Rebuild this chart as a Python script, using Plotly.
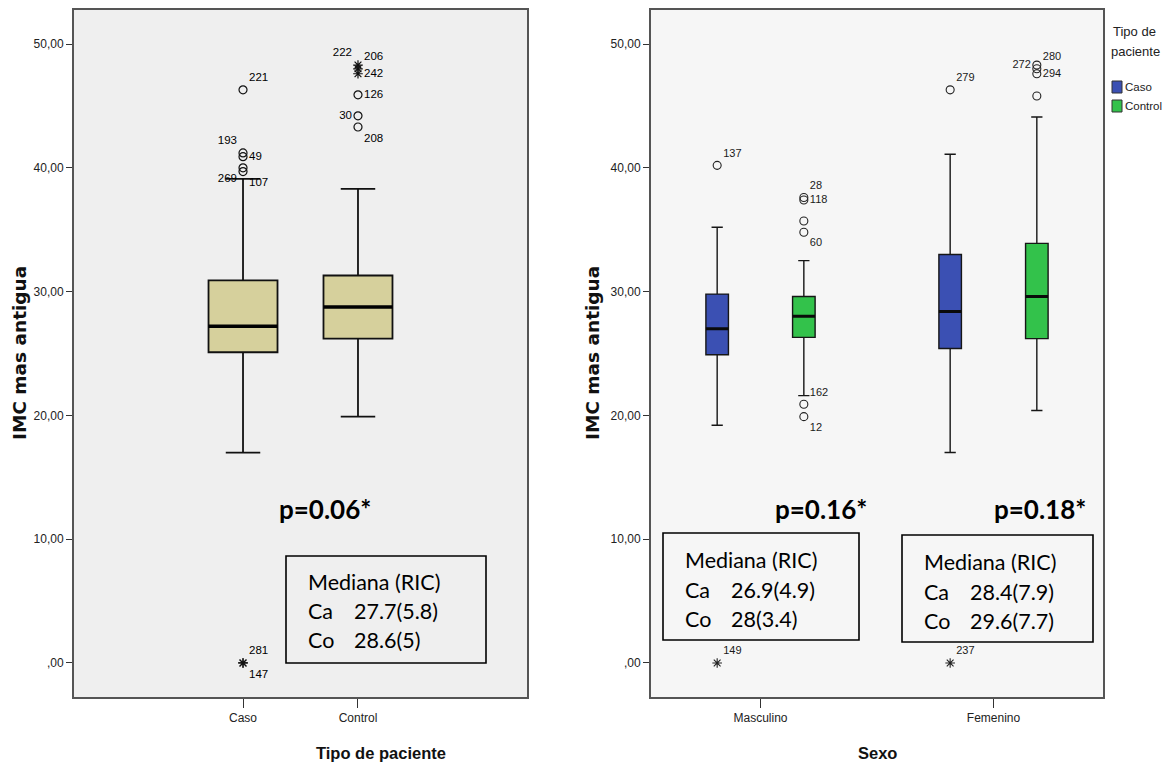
import plotly.graph_objects as go

# The page has an 8px body margin, so the figure is 16px smaller than the window
W, H = 1156, 754
OFF = 8


def px(x):
    return (x - OFF) / W


def py(y):
    return 1 - (y - OFF) / H


# ---------------- data: left panel (Tipo de paciente) ----------------
tipo_cats = ["Caso", "Control"]
tipo_q1 = [25.1, 26.2]
tipo_med = [27.2, 28.75]
tipo_q3 = [30.9, 31.3]
tipo_low = [17.0, 19.9]
tipo_high = [39.1, 38.3]

tipo_out_cat = ["Caso", "Caso", "Caso", "Caso", "Caso", "Caso", "Caso",
                "Control", "Control", "Control", "Control", "Control", "Control"]
tipo_out_val = [46.3, 41.2, 40.9, 40.0, 39.7, 0.0, 0.0,
                48.3, 48.0, 47.6, 45.9, 44.2, 43.3]
tipo_out_lbl = ["221", "193", "49", "269", "107", "281", "147",
                "222", "206", "242", "126", "30", "208"]
tipo_out_kind = ["o", "o", "o", "o", "o", "*", "*",
                 "*", "*", "*", "o", "o", "o"]
tipo_out_pos = ["top right", "top left", "middle right", "bottom left", "bottom right",
                "top right", "bottom right",
                "top left", "top right", "middle right", "middle right", "middle left", "bottom right"]

# ---------------- data: right panel (Sexo x Tipo de paciente) ----------------
sexo_cats = ["Masculino", "Femenino"]
caso_q1 = [24.9, 25.4]
caso_med = [27.0, 28.4]
caso_q3 = [29.8, 33.0]
caso_low = [19.2, 17.0]
caso_high = [35.2, 41.1]

ctrl_q1 = [26.3, 26.2]
ctrl_med = [28.0, 29.6]
ctrl_q3 = [29.6, 33.9]
ctrl_low = [21.6, 20.4]
ctrl_high = [32.5, 44.1]

caso_out_cat = ["Masculino", "Masculino", "Femenino", "Femenino"]
caso_out_val = [40.2, 0.0, 46.3, 0.0]
caso_out_lbl = ["137", "149", "279", "237"]
caso_out_kind = ["o", "*", "o", "*"]
caso_out_pos = ["top right", "top right", "top right", "top right"]

ctrl_out_cat = ["Masculino"] * 6 + ["Femenino"] * 4
ctrl_out_val = [37.6, 37.4, 35.7, 34.8, 20.9, 19.9, 48.3, 48.0, 47.6, 45.8]
ctrl_out_lbl = ["28", "118", "", "60", "162", "12", "272", "280", "294", ""]
ctrl_out_kind = ["o"] * 10
ctrl_out_pos = ["top right", "middle right", "top right", "bottom right", "top right",
                "bottom right", "middle left", "top right", "middle right", "top right"]

y_ticks = [0, 10, 20, 30, 40, 50]
y_ticktext = [",00", "10,00", "20,00", "30,00", "40,00", "50,00"]

legend_names = ["Caso", "Control"]

# ---------------- styles ----------------
SANS = "Liberation Sans Narrow, Liberation Sans, Arial, sans-serif"
TAN = "#d6d09c"
BLUE = "#3b50b3"
GREEN = "#33c24b"
SYM = {"o": "circle-open", "*": "asterisk-open"}

fig = go.Figure()

# Left boxes
fig.add_trace(go.Box(
    x=tipo_cats, q1=tipo_q1, median=tipo_med, q3=tipo_q3,
    lowerfence=tipo_low, upperfence=tipo_high,
    xaxis="x", yaxis="y", width=0.6, whiskerwidth=0.5,
    fillcolor=TAN, line=dict(color="#111111", width=1.8),
    offsetgroup="L", showlegend=False, hoverinfo="skip", boxpoints=False))
fig.add_trace(go.Box(
    x=tipo_cats, q1=tipo_med, median=tipo_med, q3=tipo_med,
    lowerfence=tipo_med, upperfence=tipo_med,
    xaxis="x", yaxis="y", width=0.6, whiskerwidth=0,
    fillcolor="rgba(0,0,0,0)", line=dict(color="#000000", width=3.5),
    offsetgroup="L", showlegend=False, hoverinfo="skip", boxpoints=False))
fig.add_trace(go.Scatter(
    x=tipo_out_cat, y=tipo_out_val, text=tipo_out_lbl, textposition=tipo_out_pos,
    mode="markers+text", xaxis="x", yaxis="y", offsetgroup="L",
    marker=dict(symbol=[SYM[k] for k in tipo_out_kind], size=8,
                color="#111111", line=dict(width=1.2, color="#111111")),
    textfont=dict(family=SANS, size=11.5, color="#000000"),
    showlegend=False, hoverinfo="skip"))

# Right boxes
for name, q1, med, q3, lo, hi, col, grp in [
    ("Caso", caso_q1, caso_med, caso_q3, caso_low, caso_high, BLUE, "caso"),
    ("Control", ctrl_q1, ctrl_med, ctrl_q3, ctrl_low, ctrl_high, GREEN, "control"),
]:
    fig.add_trace(go.Box(
        x=sexo_cats, q1=q1, median=med, q3=q3, lowerfence=lo, upperfence=hi,
        xaxis="x2", yaxis="y2", name=name, whiskerwidth=0.5,
        fillcolor=col, line=dict(color="#161616", width=1.4),
        offsetgroup=grp, showlegend=False, hoverinfo="skip", boxpoints=False))
    fig.add_trace(go.Box(
        x=sexo_cats, q1=med, median=med, q3=med, lowerfence=med, upperfence=med,
        xaxis="x2", yaxis="y2", name=name, whiskerwidth=0,
        fillcolor="rgba(0,0,0,0)", line=dict(color="#0a0a0a", width=3),
        offsetgroup=grp, showlegend=False, hoverinfo="skip", boxpoints=False))

for cats, vals, lbls, kinds, pos, grp in [
    (caso_out_cat, caso_out_val, caso_out_lbl, caso_out_kind, caso_out_pos, "caso"),
    (ctrl_out_cat, ctrl_out_val, ctrl_out_lbl, ctrl_out_kind, ctrl_out_pos, "control"),
]:
    fig.add_trace(go.Scatter(
        x=cats, y=vals, text=lbls, textposition=pos, mode="markers+text",
        xaxis="x2", yaxis="y2", offsetgroup=grp,
        marker=dict(symbol=[SYM[k] for k in kinds], size=8,
                    color="#222222", line=dict(width=1.1, color="#222222")),
        textfont=dict(family=SANS, size=11, color="#1a1a1a"),
        showlegend=False, hoverinfo="skip"))

axis_common = dict(showline=True, mirror=True, linecolor="#555555", linewidth=2,
                   showgrid=False, zeroline=False, ticks="outside", tickcolor="#333333",
                   tickfont=dict(family=SANS, size=12, color="#222222"))
yaxis_common = dict(axis_common, range=[-2.75, 52.75], tickvals=y_ticks,
                    ticktext=y_ticktext, ticklen=6, tickwidth=1.2,
                    domain=[py(697), py(10)])

fig.update_layout(
    width=W, height=H, autosize=False,
    margin=dict(l=0, r=0, t=0, b=0),
    paper_bgcolor="white",
    boxmode="group", boxgap=0.256, boxgroupgap=0.74,
    scattermode="group", scattergap=0.256,
    xaxis=dict(axis_common, type="category", domain=[px(74), px(527)],
               range=[-1.47, 2.47], anchor="y", ticklen=9, tickwidth=1.2),
    yaxis=dict(yaxis_common, anchor="x"),
    xaxis2=dict(axis_common, type="category", domain=[px(651), px(1103)],
                range=[-0.47, 1.47], anchor="y2", ticklen=9, tickwidth=1.2),
    yaxis2=dict(yaxis_common, anchor="x2"),
    showlegend=False,
)

# plot backgrounds (drawn as layout shapes behind the data)
fig.add_shape(type="rect", xref="paper", yref="paper", x0=px(74), x1=px(527),
              y0=py(697), y1=py(10), fillcolor="#efefef", line=dict(width=0), layer="below")
fig.add_shape(type="rect", xref="paper", yref="paper", x0=px(651), x1=px(1103),
              y0=py(697), y1=py(10), fillcolor="#f6f6f6", line=dict(width=0), layer="below")

# Legend (SPSS style, drawn by hand at the right edge)
LEGFONT = dict(family=SANS, size=13, color="#222222")
fig.add_annotation(x=px(1111), y=py(31), xref="paper", yref="paper", text="Tipo de",
                   showarrow=False, xanchor="left", yanchor="middle", font=LEGFONT)
fig.add_annotation(x=px(1109), y=py(52), xref="paper", yref="paper", text="paciente",
                   showarrow=False, xanchor="left", yanchor="middle", font=LEGFONT)
for name, col, yc in [(legend_names[0], BLUE, 87), (legend_names[1], GREEN, 106)]:
    fig.add_shape(type="rect", xref="paper", yref="paper", x0=px(1112), x1=px(1122),
                  y0=py(yc + 6), y1=py(yc - 6), fillcolor=col,
                  line=dict(color="#333333", width=1))
    fig.add_annotation(x=px(1123), y=py(yc), xref="paper", yref="paper", text=name,
                       showarrow=False, xanchor="left", yanchor="middle",
                       font=dict(family=SANS, size=11.5, color="#222222"))

# Text boxes
for x0, y0, x1, y1 in [(286, 556, 486, 663), (663, 533, 859, 640), (902, 535, 1093, 642)]:
    fig.add_shape(type="rect", xref="paper", yref="paper", x0=px(x0), x1=px(x1),
                  y0=py(y1), y1=py(y0), line=dict(color="#000000", width=1.6),
                  fillcolor="rgba(0,0,0,0)")

BOXFONT = dict(family="Lato, Open Sans, sans-serif", size=21.5, color="#000000")
box_lines = [
    (306, 352, 582, 611, 640, "27.7(5.8)", "28.6(5)"),
    (683, 729, 560, 590, 619, "26.9(4.9)", "28(3.4)"),
    (922, 968, 562, 592, 621, "28.4(7.9)", "29.6(7.7)"),
]
for xl, xv, y_m, y_ca, y_co, v_ca, v_co in box_lines:
    fig.add_annotation(x=px(xl), y=py(y_m), xref="paper", yref="paper", text="Mediana (RIC)",
                       showarrow=False, xanchor="left", yanchor="middle", font=BOXFONT)
    fig.add_annotation(x=px(xl), y=py(y_ca), xref="paper", yref="paper", text="Ca",
                       showarrow=False, xanchor="left", yanchor="middle", font=BOXFONT)
    fig.add_annotation(x=px(xv), y=py(y_ca), xref="paper", yref="paper", text=v_ca,
                       showarrow=False, xanchor="left", yanchor="middle", font=BOXFONT)
    fig.add_annotation(x=px(xl), y=py(y_co), xref="paper", yref="paper", text="Co",
                       showarrow=False, xanchor="left", yanchor="middle", font=BOXFONT)
    fig.add_annotation(x=px(xv), y=py(y_co), xref="paper", yref="paper", text=v_co,
                       showarrow=False, xanchor="left", yanchor="middle", font=BOXFONT)

PFONT = dict(family="Lato, Open Sans, sans-serif", size=26, color="#000000")
for x, txt in [(325, "p=0.06*"), (821, "p=0.16*"), (1040, "p=0.18*")]:
    fig.add_annotation(x=px(x), y=py(509), xref="paper", yref="paper", text=f"<b>{txt}</b>",
                       showarrow=False, xanchor="center", yanchor="middle", font=PFONT)

# Axis titles
YT = dict(family="DejaVu Sans, sans-serif", size=18.5, color="#111111")
for x in (19, 592):
    fig.add_annotation(x=px(x), y=py(353), xref="paper", yref="paper",
                       text="<b>IMC mas antigua</b>", textangle=-90, showarrow=False,
                       xanchor="center", yanchor="middle", font=YT)
XT = dict(family=SANS, size=16.5, color="#111111")
for x, txt in [(381, "Tipo de paciente"), (877, "Sexo")]:
    fig.add_annotation(x=px(x), y=py(753), xref="paper", yref="paper", text=f"<b>{txt}</b>",
                       showarrow=False, xanchor="center", yanchor="middle", font=XT)

fig.write_html("out.html")
